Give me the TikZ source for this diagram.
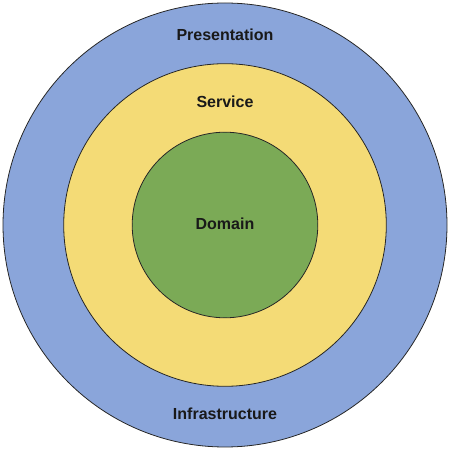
\documentclass[tikz,border=0pt]{standalone}
\usepackage{fontspec}
\setmainfont{Liberation Sans}
\usepackage{tikz}
\definecolor{layerblue}{HTML}{8AA5DA}
\definecolor{layeryellow}{HTML}{F4DB76}
\definecolor{layergreen}{HTML}{7BAA56}
\tikzset{
	ring/.style={line width=0.8pt, draw=black!85},
	layername/.style={font=\fontsize{16}{18}\selectfont\bfseries, text=black!90}
}
\begin{document}
\begin{tikzpicture}[x=1pt, y=1pt]
			%%%%% START %%%%%
			
			\useasboundingbox (0, 0) rectangle (450, 450);
			
			\draw[ring, fill=layerblue] (225, 225) circle (222);
			\draw[ring, fill=layeryellow] (225, 225) circle (161.3);
			\draw[ring, fill=layergreen] (225, 225) circle (92.8);
			
			\node[layername] (presentation) at (225, 415) {Presentation};
			\node[layername] (service) at (225, 348) {Service};
			\node[layername] (domain) at (225, 226) {Domain};
			\node[layername] (infrastructure) at (225, 36) {Infrastructure};
			
			%%%%% END %%%%%
		\end{tikzpicture}
\end{document}
